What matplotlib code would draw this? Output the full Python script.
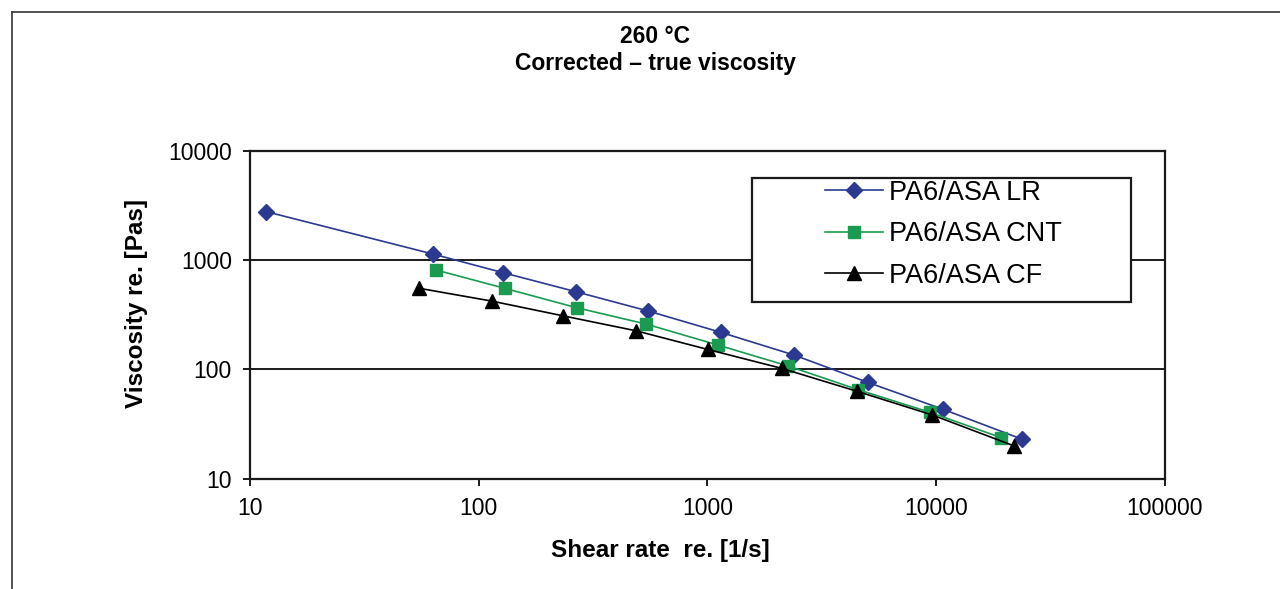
import matplotlib
matplotlib.use("Agg")
import matplotlib.pyplot as plt
from matplotlib.lines import Line2D
from matplotlib.patches import Rectangle

plt.rcParams['font.family'] = ['Liberation Sans', 'DejaVu Sans']

# shear rate [1/s] and viscosity [Pas]
shear_lr = [11.8, 63, 128, 266, 552, 1143, 2393, 5020, 10740, 23650]
visc_lr = [2767, 1135, 765, 513, 341, 218, 135, 76, 43, 23]

shear_cnt = [65, 130, 268, 537, 1109, 2259, 4570, 9400, 19230]
visc_cnt = [811, 551, 366, 260, 167, 107, 65, 40.4, 23.7]

shear_cf = [55, 114, 233, 488, 1003, 2113, 4500, 9620, 21780]
visc_cf = [551, 421, 309, 225, 152, 102, 63, 38.2, 20]

x_ticks = [10, 100, 1000, 10000, 100000]
y_ticks = [10, 100, 1000, 10000]
grid_y = [100, 1000]

blue = '#2B3990'
green = '#1A9B50'

fig = plt.figure(figsize=(12.8, 5.89), dpi=100)
ax = fig.add_axes([0.1953, 0.1874, 0.7148, 0.5567])

for g in grid_y:
    ax.axhline(g, color='#1a1a1a', lw=1.4, zorder=1)

ax.plot(shear_lr, visc_lr, color=blue, lw=1.2, marker='D', ms=8.5,
        label='PA6/ASA LR', zorder=3)
ax.plot(shear_cnt, visc_cnt, color=green, lw=1.2, marker='s', ms=8,
        label='PA6/ASA CNT', zorder=3)
ax.plot(shear_cf, visc_cf, color='black', lw=1.2, marker='^', ms=10,
        label='PA6/ASA CF', zorder=3)

ax.set_xscale('log')
ax.set_yscale('log')
ax.set_xlim(10, 100000)
ax.set_ylim(10, 10000)
ax.set_xticks(x_ticks, [str(v) for v in x_ticks])
ax.set_yticks(y_ticks, [str(v) for v in y_ticks])
ax.minorticks_off()
ax.tick_params(direction='out', length=5, width=1.4, color='#1a1a1a',
               labelsize=16.5, pad=8)

for s in ax.spines.values():
    s.set_linewidth(1.6)
    s.set_color('#1a1a1a')

ax.set_xlabel('Shear rate  re. [1/s]', fontsize=17.5, fontweight='bold')
ax.xaxis.set_label_coords(0.448, -0.183)
ax.set_ylabel('Viscosity re. [Pas]', fontsize=17.5, fontweight='bold')
ax.yaxis.set_label_coords(-0.111, 0.535)

# legend box drawn as a patch so it can cover the gridline
box = Rectangle((0.5486, 0.5386), 0.4144, 0.378, transform=ax.transAxes,
                facecolor='white', edgecolor='#1a1a1a', lw=1.6, zorder=4)
ax.add_patch(box)
leg = ax.legend(loc='upper left', bbox_to_anchor=(0.6284, 0.911),
                frameon=False, fontsize=19.5, handlelength=2.15,
                handletextpad=0.2, labelspacing=0.57, borderpad=0,
                borderaxespad=0)
leg.set_zorder(5)

fig.text(0.512, 0.938, '260 °C', ha='center', va='center',
         fontsize=16.5, fontweight='bold')
fig.text(0.512, 0.892, 'Corrected – true viscosity', ha='center',
         va='center', fontsize=16.5, fontweight='bold')

# page frame lines at top and left
fig.add_artist(Line2D([0.0095, 1.0], [0.979, 0.979], color='#333333', lw=1.2))
fig.add_artist(Line2D([0.0095, 0.0095], [0.0, 0.979], color='#333333', lw=1.2))

fig.savefig('out.png', dpi=100)
